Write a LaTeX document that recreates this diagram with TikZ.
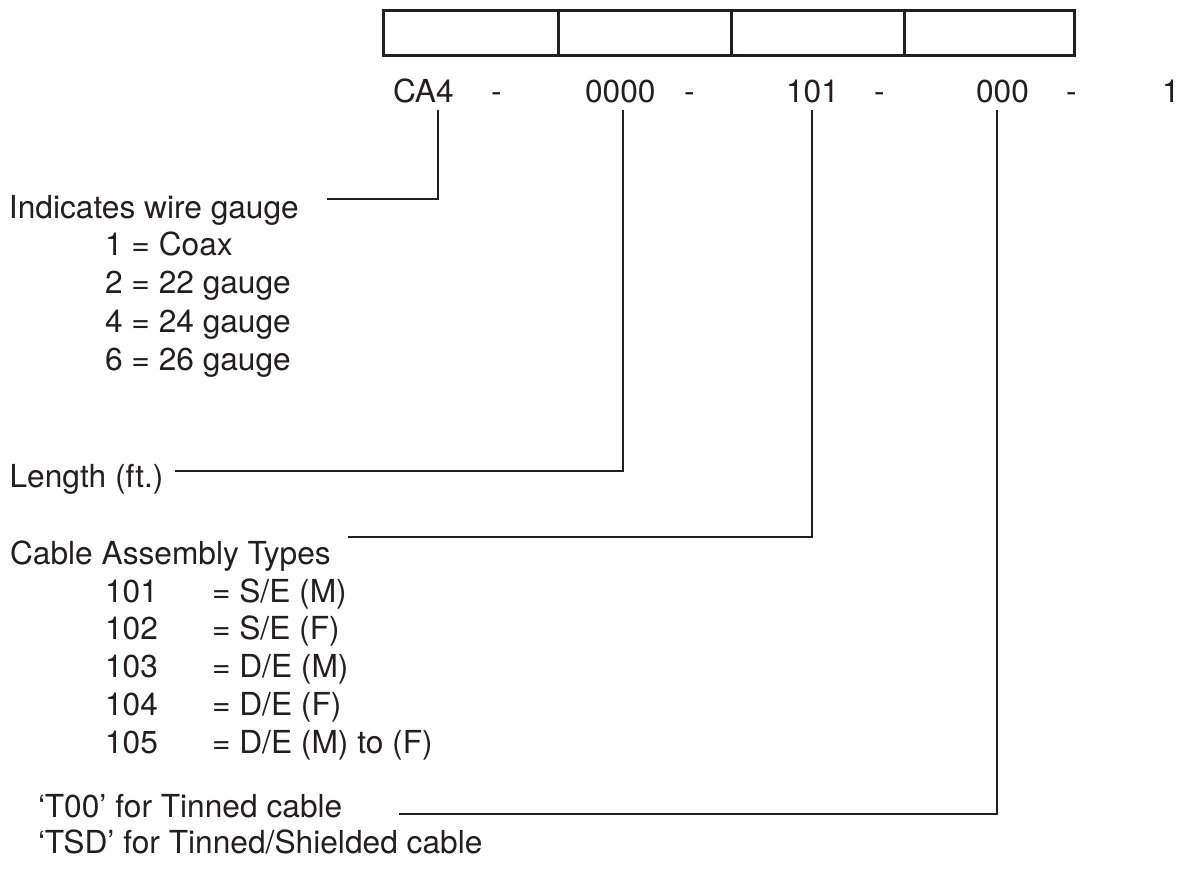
\documentclass[tikz,border=0pt]{standalone}
\usepackage{fontspec}
\setmainfont{TeX Gyre Heros}
\definecolor{ink}{HTML}{231F20}
\newcommand\myfont{\fontsize{31.7pt}{38pt}\selectfont}
\begin{document}
\begin{tikzpicture}[x=1pt,y=-1pt,
  txt/.style={anchor=base west,inner sep=0pt,outer sep=0pt,font=\myfont,text=ink},
  cell/.style={draw=ink,line width=2.6pt,anchor=north west,inner sep=0pt,minimum height=45pt},
  lead/.style={draw=ink,line width=2.6pt}]
\useasboundingbox (0,0) rectangle (1180,873);
% box
\node[cell,minimum width=175pt] (cA) at (382,9) {};
\node[cell,minimum width=173pt] (cB) at (557,9) {};
\node[cell,minimum width=173pt] (cC) at (730,9) {};
\node[cell,minimum width=170pt] (cD) at (903,9) {};
% code row
\node[txt] (ca4)  at (393,102) {CA4};
\node[txt] (h1)   at (491,102) {-};
\node[txt] (len)  at (585,102) {0000};
\node[txt] (h2)   at (684,102) {-};
\node[txt] (typ)  at (786,102) {101};
\node[txt] (h3)   at (874,102) {-};
\node[txt] (opt)  at (976,102) {000};
\node[txt] (h4)   at (1066,102) {-};
\node[txt] (one)  at (1162,102) {1};
% gauge
\node[txt] (gauge) at (9,218) {Indicates wire gauge};
\node[txt] (g1) at (105,255) {1 = Coax};
\node[txt] (g2) at (105,293) {2 = 22 gauge};
\node[txt] (g4) at (105,332) {4 = 24 gauge};
\node[txt] (g6) at (105,370) {6 = 26 gauge};
% length
\node[txt] (lenlab) at (9.5,487) {Length (ft.)};
% cable types
\node[txt] (cable) at (10,564) {Cable Assembly Types};
\foreach \n/\t [count=\i from 0] in {101/{= S/E (M)},102/{= S/E (F)},103/{= D/E (M)},104/{= D/E (F)},105/{= D/E (M) to (F)}}{
  \node[txt] (n\n) at (105,602+37.8*\i) {\n};
  \node[txt] (e\n) at (212,602+37.8*\i) {\t};
}
% tinned
\node[txt] (tin) at (38,817) {‘T00’ for Tinned cable};
\node[txt] (tsd) at (38,853) {‘TSD’ for Tinned/Shielded cable};
% leader coordinates
\coordinate (a1) at (438,110); \coordinate (a2) at (327,199);
\coordinate (b1) at (623,110); \coordinate (b2) at (175,471);
\coordinate (c1) at (812,110); \coordinate (c2) at (348,537);
\coordinate (d1) at (997,110); \coordinate (d2) at (399,814);
\draw[lead] (a1) |- (a2);
\draw[lead] (b1) |- (b2);
\draw[lead] (c1) |- (c2);
\draw[lead] (d1) |- (d2);
\end{tikzpicture}
\end{document}
